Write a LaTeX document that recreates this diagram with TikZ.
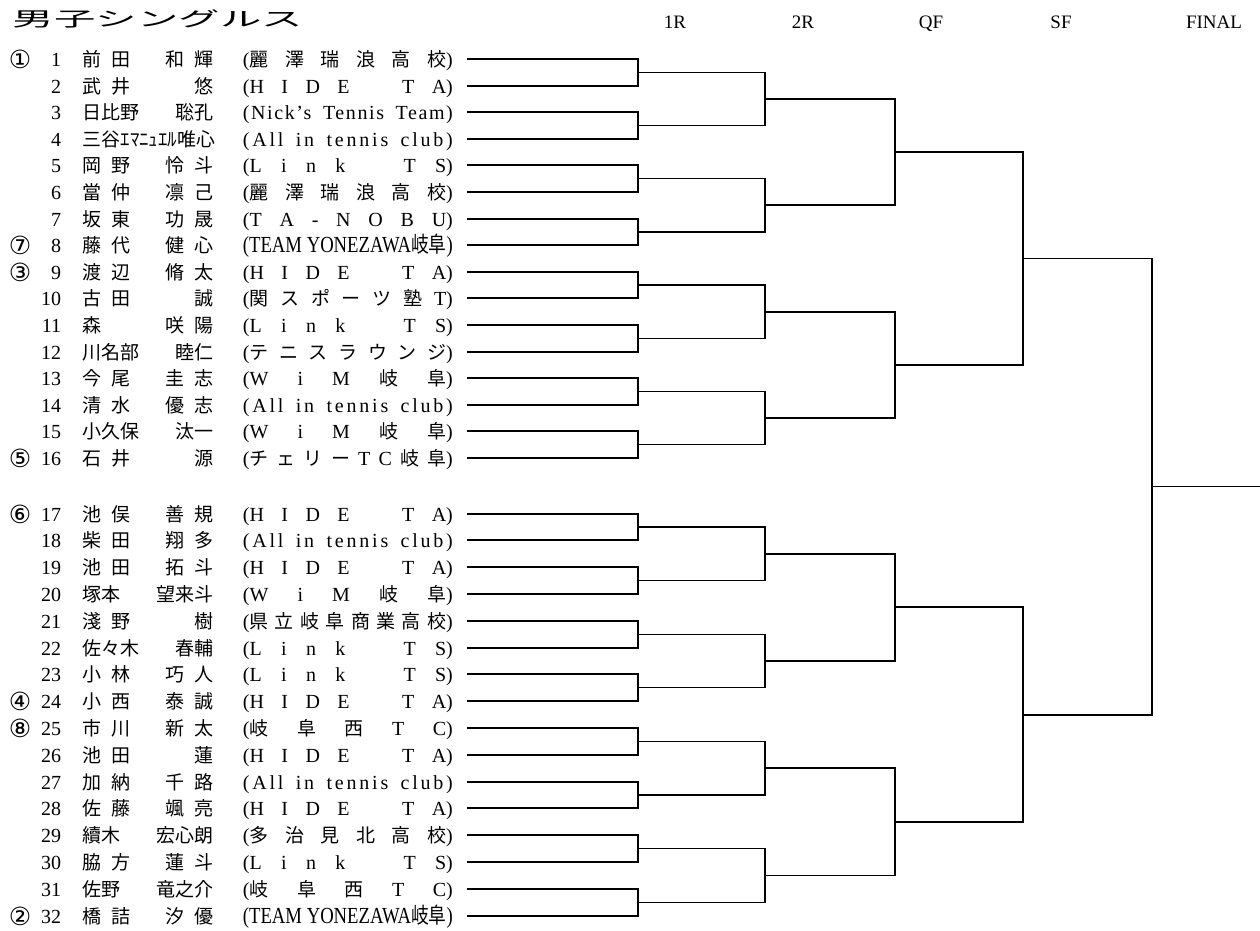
\documentclass[tikz,border=0pt]{standalone}
\usepackage{fontspec}
\setmainfont{Liberation Serif}
\newfontfamily\jp[Scale=0.95]{Noto Sans CJK JP}
\newfontfamily\sym{DejaVu Sans}
\usetikzlibrary{calc}

\newcommand\gp{\hspace{10pt}}
\newcommand\fl{\hfill}
\newcommand\club[1]{\makebox[210pt][s]{#1}}
\newcommand\lsp[1]{\addfontfeatures{LetterSpace=#1}}
\newcommand\yone{\resizebox{210pt}{\height}{\fontsize{23}{23}\selectfont(TEAM YONEZAWA{\jp 岐阜})}}

\begin{document}
\begin{tikzpicture}[x=1pt, y=-1pt, line width=1.8pt,
  every node/.style={inner sep=0pt, font=\fontsize{20}{22}\selectfont},
  rnd/.style={anchor=base, font=\fontsize{19}{20}\selectfont}]
\useasboundingbox (0,0) rectangle (1260,930);

\node[anchor=base west] (title) at (12,26) {\resizebox{290pt}{\height}{\jp\fontsize{21}{21}\selectfont 男子シングルス}};

\foreach \lbl/\x in {1R/675, 2R/803, QF/931, SF/1061, FINAL/1214}
\node[rnd] (h\lbl) at (\x,28) {\lbl};

\foreach \i/\sd/\sur/\giv/\cl [evaluate=\i as \yy using {\i<17 ? round(59+(\i-1)*26.6) : round(513.5+(\i-17)*26.8)}] in {
 1/①/前\gp 田/和\gp 輝/{({\jp 麗\fl 澤\fl 瑞\fl 浪\fl 高\fl 校})},
 2//武\gp 井/悠/{(H\fl I\fl D\fl E\fl\fl\fl T\fl A)},
 3//日比野/聡孔/{\lsp{8}(Nick's Tennis Team)},
 4//{\resizebox{132pt}{\height}{三谷ｴﾏﾆｭｴﾙ唯心}}//{\lsp{14}(All in tennis club)},
 5//岡\gp 野/怜\gp 斗/{(L\fl i\fl n\fl k\fl\fl\fl T\fl S)},
 6//當\gp 仲/凛\gp 己/{({\jp 麗\fl 澤\fl 瑞\fl 浪\fl 高\fl 校})},
 7//坂\gp 東/功\gp 晟/{(T\fl A\fl -\fl N\fl O\fl B\fl U)},
 8/⑦/藤\gp 代/健\gp 心/{\yone},
 9/③/渡\gp 辺/脩\gp 太/{(H\fl I\fl D\fl E\fl\fl\fl T\fl A)},
 10//古\gp 田/誠/{({\jp 関\fl ス\fl ポ\fl ー\fl ツ\fl 塾}\fl T)},
 11//森/咲\gp 陽/{(L\fl i\fl n\fl k\fl\fl\fl T\fl S)},
 12//川名部/睦仁/{({\jp テ\fl ニ\fl ス\fl ラ\fl ウ\fl ン\fl ジ})},
 13//今\gp 尾/圭\gp 志/{(W\fl i\fl M\fl {\jp 岐}\fl {\jp 阜})},
 14//清\gp 水/優\gp 志/{\lsp{14}(All in tennis club)},
 15//小久保/汰一/{(W\fl i\fl M\fl {\jp 岐}\fl {\jp 阜})},
 16/⑤/石\gp 井/源/{({\jp チ\fl ェ\fl リ\fl ー}\fl T\fl C\fl {\jp 岐\fl 阜})},
 17/⑥/池\gp 俣/善\gp 規/{(H\fl I\fl D\fl E\fl\fl\fl T\fl A)},
 18//柴\gp 田/翔\gp 多/{\lsp{14}(All in tennis club)},
 19//池\gp 田/拓\gp 斗/{(H\fl I\fl D\fl E\fl\fl\fl T\fl A)},
 20//塚本/望来斗/{(W\fl i\fl M\fl {\jp 岐}\fl {\jp 阜})},
 21//淺\gp 野/樹/{({\jp 県\fl 立\fl 岐\fl 阜\fl 商\fl 業\fl 高\fl 校})},
 22//佐々木/春輔/{(L\fl i\fl n\fl k\fl\fl\fl T\fl S)},
 23//小\gp 林/巧\gp 人/{(L\fl i\fl n\fl k\fl\fl\fl T\fl S)},
 24/④/小\gp 西/泰\gp 誠/{(H\fl I\fl D\fl E\fl\fl\fl T\fl A)},
 25/⑧/市\gp 川/新\gp 太/{({\jp 岐\fl 阜\fl 西}\fl T\fl C)},
 26//池\gp 田/蓮/{(H\fl I\fl D\fl E\fl\fl\fl T\fl A)},
 27//加\gp 納/千\gp 路/{\lsp{14}(All in tennis club)},
 28//佐\gp 藤/颯\gp 亮/{(H\fl I\fl D\fl E\fl\fl\fl T\fl A)},
 29//續木/宏心朗/{({\jp 多\fl 治\fl 見\fl 北\fl 高\fl 校})},
 30//脇\gp 方/蓮\gp 斗/{(L\fl i\fl n\fl k\fl\fl\fl T\fl S)},
 31//佐野/竜之介/{({\jp 岐\fl 阜\fl 西}\fl T\fl C)},
 32/②/橋\gp 詰/汐\gp 優/{\yone}}
{
\node (sd\i) at (20,\yy) {\sym\fontsize{25}{25}\selectfont\sd};
\node[anchor=base east] (n\i) at (62,\yy+7) {\i};
\node[anchor=base west] (sn\i) at (82,\yy+7) {\jp\sur};
\node[anchor=base east] (gn\i) at (214,\yy+7) {\jp\giv};
\node[anchor=base west] (c\i) at (242,\yy+7) {\club{\cl}};
\coordinate (m0-\i) at ($(c\i.base east)+(13,-7)$);
}

\foreach \lv/\n/\dx [evaluate=\lv as \pv using int(\lv-1)] in {1/16/171, 2/8/127, 3/4/130, 4/2/128, 5/1/129} {
\foreach \k [evaluate=\k as \a using int(2*\k-1), evaluate=\k as \b using int(2*\k)] in {1,...,\n} {
\coordinate (m\lv-\k) at ($(m\pv-\a)!.5!(m\pv-\b)+(\dx,0)$);
\draw (m\pv-\a) -| (m\lv-\k);
\draw (m\pv-\b) -| (m\lv-\k);
}
}

\coordinate (champ) at ($(m5-1)+(110,0)$);
\draw (m5-1) -- (champ);

\end{tikzpicture}
\end{document}
